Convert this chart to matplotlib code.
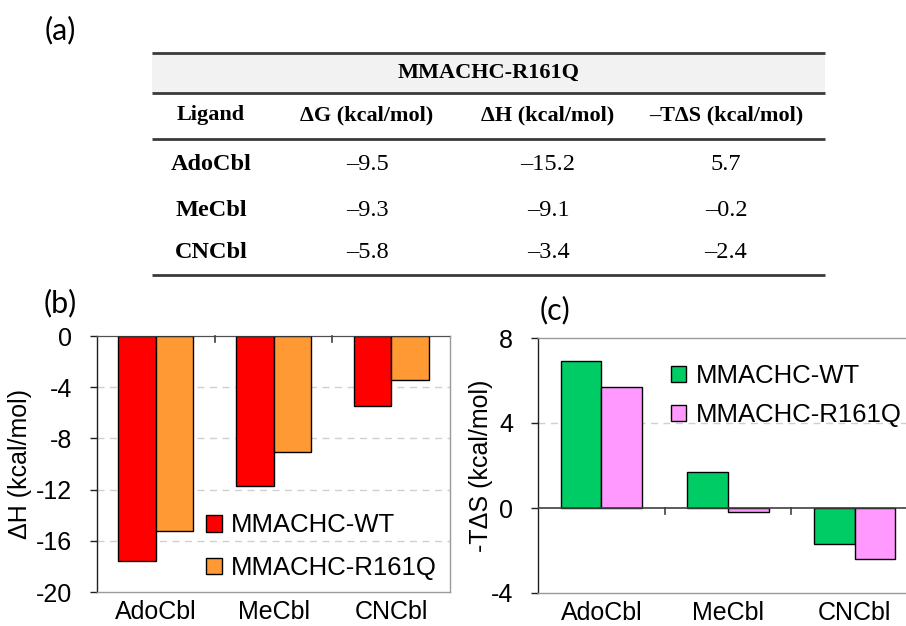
import matplotlib
matplotlib.use("Agg")
import matplotlib.pyplot as plt
import matplotlib.transforms as mtransforms
import numpy as np

plt.rcParams['axes.unicode_minus'] = False
plt.rcParams['font.family'] = ['Liberation Sans', 'DejaVu Sans']

# ---------------- data ----------------
ligands = ['AdoCbl', 'MeCbl', 'CNCbl']
series = ['MMACHC-WT', 'MMACHC-R161Q']
dG_R161Q = [-9.5, -9.3, -5.8]
dH_R161Q = [-15.2, -9.1, -3.4]
mTdS_R161Q = [5.7, -0.2, -2.4]
dH_WT = [-17.6, -11.7, -5.5]
mTdS_WT = [6.9, 1.7, -1.7]
table_title = 'MMACHC-R161Q'
table_headers = ['Ligand', '\u0394G (kcal/mol)', '\u0394H (kcal/mol)', '\u2013T\u0394S (kcal/mol)']
dH_ticks = [0, -4, -8, -12, -16, -20]
dS_ticks = [8, 4, 0, -4]

W, H = 906, 626
fig = plt.figure(figsize=(W / 100, H / 100), dpi=100)

# ---------------- table (a) ----------------
tax = fig.add_axes([0, 0, 1, 1])
tax.set_xlim(0, W)
tax.set_ylim(H, 0)
tax.axis('off')
x0, x1 = 152, 825
tax.fill_between([x0, x1], 52, 93, color='#f2f2f2', lw=0, zorder=0)
for yy, lw in [(52.5, 2.0), (93, 2.0), (139, 2.0), (275, 2.0)]:
    tax.plot([x0, x1], [yy, yy], color='#3a3a3a', lw=lw, solid_capstyle='butt')

serif = ['Liberation Serif', 'DejaVu Serif']
col_x = [211, 367, 548, 726]
tax.text((x0 + x1) / 2, 73, table_title, ha='center', va='center',
         family=serif, weight='bold', fontsize=16)
for cx, h in zip(col_x, table_headers):
    tax.text(cx, 115, h, ha='center', va='center', family=serif,
             weight='bold', fontsize=16)

def fmt(v):
    s = f'{abs(v):.1f}'
    return ('\u2013' + s) if v < 0 else s

row_y = [165, 210, 253]
for i, lig in enumerate(ligands):
    tax.text(col_x[0], row_y[i], lig, ha='center', va='center', family=serif,
             weight='bold', fontsize=17.5)
    for j, arr in enumerate([dG_R161Q, dH_R161Q, mTdS_R161Q]):
        tax.text(col_x[j + 1], row_y[i], fmt(arr[i]), ha='center', va='center',
                 family=serif, fontsize=17.5)

# ---------------- helper for bar panels ----------------
def bar_panel(rect, wt, mut, colors, ylim, ticks, grid_vals, ylabel, ylab_x,
              legend_anchor, lspace):
    ax = fig.add_axes(rect)
    x = np.arange(len(ligands))
    bw = 0.32
    ax.bar(x - bw / 2, wt, bw, color=colors[0], edgecolor='black', lw=1.0,
           label=series[0], zorder=3)
    ax.bar(x + bw / 2, mut, bw, color=colors[1], edgecolor='black', lw=1.0,
           label=series[1], zorder=3)
    ax.set_xlim(-0.5, len(ligands) - 0.5)
    ax.set_ylim(*ylim)
    ax.set_yticks(ticks)
    ax.set_yticklabels([str(t) for t in ticks])
    for g in grid_vals:
        ax.axhline(g, color='#d0d0d0', lw=1.0, ls=(0, (5, 4)), zorder=1)
    # zero line with category tick marks
    ax.axhline(0, color='#404040', lw=1.2, zorder=4)
    trans = mtransforms.blended_transform_factory(ax.transData, ax.transAxes)
    y0 = (0 - ylim[0]) / (ylim[1] - ylim[0])
    for bx in np.arange(0.5, len(ligands) - 0.5, 1.0):
        ax.plot([bx, bx], [y0, y0 - 0.025], color='#404040', lw=1.2,
                transform=trans, zorder=4, clip_on=False)
    ax.set_xticks(x)
    ax.set_xticklabels(ligands, fontsize=18)
    ax.tick_params(axis='x', length=0, pad=6)
    ax.tick_params(axis='y', direction='out', length=5, width=1.0,
                   labelsize=18, pad=13, color='#202020')
    for s in ['top', 'right', 'bottom']:
        ax.spines[s].set_color('#9a9a9a')
        ax.spines[s].set_linewidth(1.0)
    ax.spines['left'].set_color('#202020')
    ax.spines['left'].set_linewidth(1.0)
    ax.set_ylabel(ylabel, fontsize=18)
    ax.yaxis.set_label_coords(ylab_x, 0.5)
    ax.legend(loc='upper left', bbox_to_anchor=legend_anchor,
              frameon=False, fontsize=18.5, handlelength=0.6,
              handleheight=0.6, handletextpad=0.35, labelspacing=lspace,
              borderaxespad=0, borderpad=0)
    return ax

# (b)
bar_panel([97 / W, 1 - 592 / H, 353 / W, 256 / H], dH_WT, dH_R161Q,
          ['#ff0000', '#ff9933'], (-20, 0), dH_ticks, [-4, -8, -12, -16],
          '\u0394H (kcal/mol)', -0.185, (0.31, 0.307), 0.72)

# (c)
bar_panel([538 / W, 1 - 593 / H, 380 / W, 255 / H], mTdS_WT, mTdS_R161Q,
          ['#00cc66', '#ff99ff'], (-4, 8), dS_ticks, [4],
          '-T\u0394S (kcal/mol)', -0.118, (0.35, 0.897), 0.57)

# panel labels
lab = ['Lato', 'DejaVu Sans']
fig.text(60 / W, 1 - 30 / H, '(a)', ha='center', va='center', family=lab, fontsize=22)
fig.text(60 / W, 1 - 303 / H, '(b)', ha='center', va='center', family=lab, fontsize=22)
fig.text(555 / W, 1 - 310 / H, '(c)', ha='center', va='center', family=lab, fontsize=22)

fig.savefig('out.png', dpi=100)
